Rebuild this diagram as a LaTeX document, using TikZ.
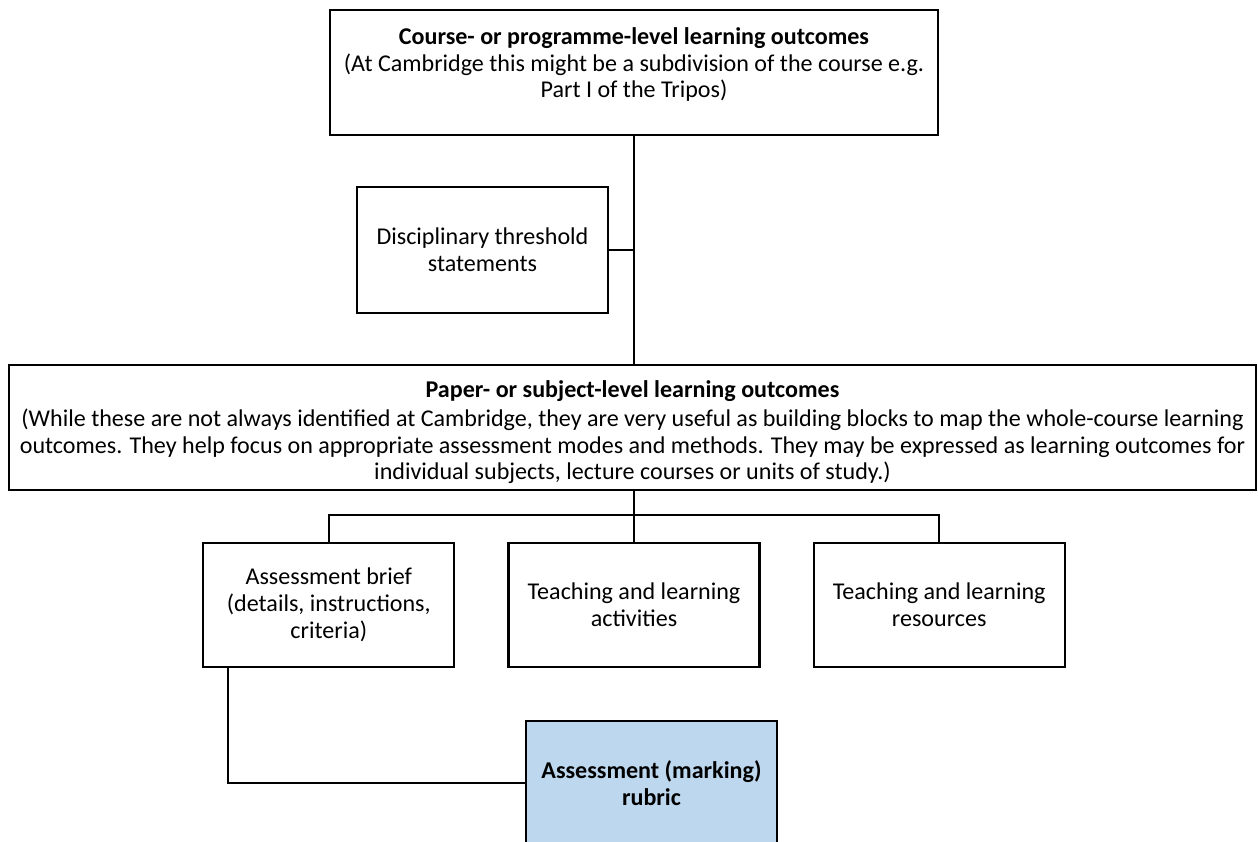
\documentclass[tikz,border=0pt]{standalone}
\usepackage{fontspec}
\setmainfont{Carlito}
\definecolor{rubricblue}{RGB}{189,215,238}
\usetikzlibrary{positioning, calc}

\begin{document}
\begin{tikzpicture}[
  boxtext/.style={font=\fontsize{13.7}{15.2}\selectfont, align=center},
  box/.style={draw, line width=1.25pt, minimum width=5.02cm, minimum height=2.48cm, inner sep=0pt, boxtext},
  wide/.style={box, minimum height=2.5cm},
  link/.style={line width=1.25pt},
]
  \clip (0,0) rectangle (25.16,16.82);

  \node[wide, minimum width=12.16cm, label={[boxtext, yshift=0.16cm]center:{\textbf{Course- or programme-level learning outcomes}\\[0pt](At Cambridge this might be a subdivision of the course e.g.\\Part I of the Tripos)}}] (course) at (12.68,15.37) {};
  \node[box, minimum height=2.52cm] (threshold) at (9.65,11.82) {Disciplinary threshold\\statements};
  \node[wide, minimum width=24.94cm, label={[boxtext, yshift=-0.1cm]center:{\textbf{Paper- or subject-level learning outcomes}\\[1pt](While these are not always identified at Cambridge, they are very useful as building blocks to map the whole-course learning\\outcomes. They help focus on appropriate assessment modes and methods. They may be expressed as learning outcomes for\\individual subjects, lecture courses or units of study.)}}] (paper) at (12.65,8.27) {};

  % second row
  \node[box] (activities) at (12.68,4.72) {Teaching and learning\\activities};
  \node[box, left=1.04cm of activities] (brief) {Assessment brief\\(details, instructions,\\criteria)};
  \node[box, right=1.04cm of activities] (resources) {Teaching and learning\\resources};
  \node[box, fill=rubricblue, font=\fontsize{13.7}{15.2}\selectfont\bfseries] (rubric) at (13.03,1.16) {Assessment (marking)\\rubric};

  \draw[link] (course.south) -- (course.south |- paper.north);
  \draw[link] (threshold.east) -- (threshold.east -| course.south);
  \draw[link] (activities.north |- paper.south) -- (activities.north);
  \draw[link] (brief.north) -- ++(0,0.54) -| (resources.north);

  % brief to rubric
  \draw[link] ([xshift=0.52cm]brief.south west) |- (rubric.west);
\end{tikzpicture}
\end{document}
